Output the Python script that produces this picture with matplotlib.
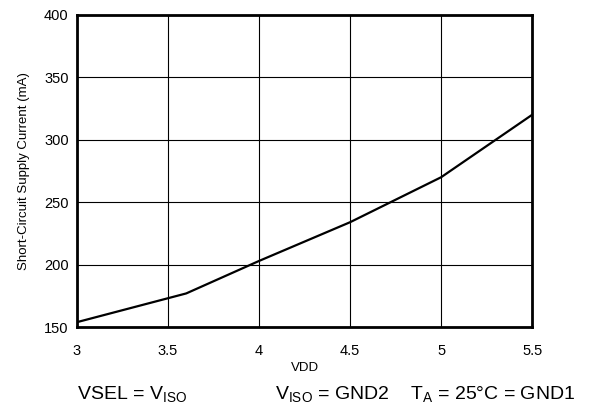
import matplotlib
matplotlib.use("Agg")
import matplotlib.pyplot as plt

plt.rcParams["font.family"] = ["Liberation Sans", "DejaVu Sans"]
plt.rcParams["mathtext.fontset"] = "custom"
plt.rcParams["mathtext.rm"] = "Liberation Sans"
plt.rcParams["mathtext.it"] = "Liberation Sans"

# Data
vdd = [3.0, 3.6, 4.0, 4.5, 5.0, 5.5]
current_ma = [154, 177, 203, 234, 270, 320]

x_ticks = [3, 3.5, 4, 4.5, 5, 5.5]
x_tick_labels = ["3", "3.5", "4", "4.5", "5", "5.5"]
y_ticks = [150, 200, 250, 300, 350, 400]

fig = plt.figure(figsize=(6.11, 4.11), dpi=100)
ax = fig.add_axes([0.126, 0.204, 0.745, 0.760])

ax.plot(vdd, current_ma, color="black", linewidth=1.6, zorder=3)

ax.set_xlim(3, 5.5)
ax.set_ylim(150, 400)
ax.set_xticks(x_ticks)
ax.set_xticklabels(x_tick_labels)
ax.set_yticks(y_ticks)
ax.tick_params(length=0, labelsize=10.5)
ax.tick_params(axis="x", pad=12)
ax.tick_params(axis="y", pad=6)

ax.grid(True, color="black", linewidth=0.8)
for sp in ax.spines.values():
    sp.set_linewidth(2)

ax.set_xlabel("VDD", fontsize=9.5, labelpad=3)
ax.set_ylabel("Short-Circuit Supply Current (mA)", fontsize=9.5, labelpad=10)

fig.text(0.126, 0.030, r"VSEL = V$_{\mathrm{ISO}}$", fontsize=14)
fig.text(0.45, 0.030, r"V$_{\mathrm{ISO}}$ = GND2    T$_{\mathrm{A}}$ = 25°C = GND1", fontsize=14)

fig.savefig("out.png", dpi=100)
